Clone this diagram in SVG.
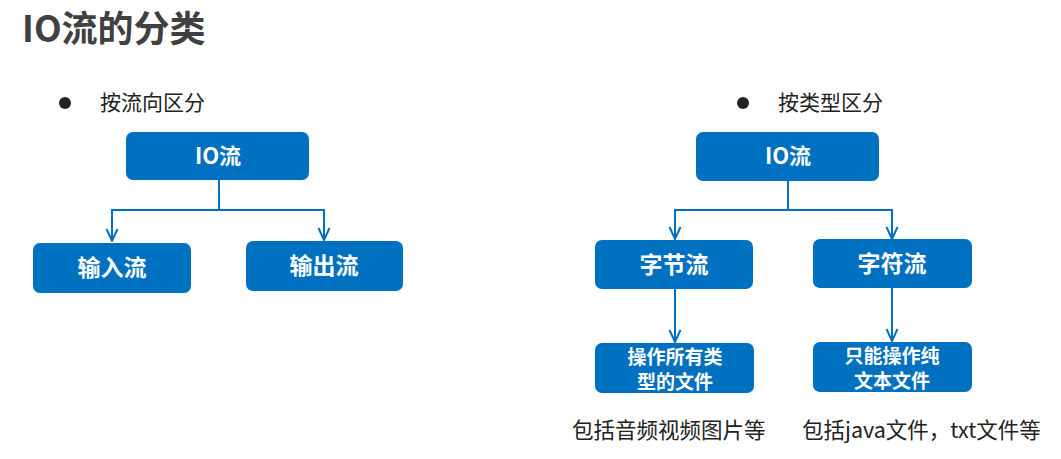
<svg xmlns="http://www.w3.org/2000/svg" width="1061" height="459" viewBox="0 0 1061 459">
<style>
.box{fill:#0070C0;}
.nt{fill:#fff;font-family:"Noto Sans CJK SC","Noto Sans",sans-serif;font-weight:bold;text-anchor:middle;}
.t{fill:#222;font-family:"Noto Sans CJK SC","Noto Sans",sans-serif;}
.c{fill:none;stroke:#0070C0;stroke-width:2;}
</style>
<defs>
<marker id="arr" viewBox="0 0 14 14" refX="13" refY="7" markerWidth="14" markerHeight="14" markerUnits="userSpaceOnUse" orient="auto">
<path d="M1,1.5 L13,7 L1,12.5" fill="none" stroke="#0070C0" stroke-width="2"/>
</marker>
</defs>
<text x="22" y="42" style="font-family:'Noto Sans CJK SC','Noto Sans',sans-serif;font-weight:bold;font-size:36px;fill:#404040;">IO流的分类</text>
<circle cx="65" cy="103" r="6" fill="#222"/>
<text class="t" x="100" y="110" font-size="21">按流向区分</text>
<circle cx="743" cy="103" r="6" fill="#222"/>
<text class="t" x="778" y="110" font-size="21">按类型区分</text>
<g id="connectors">
<path class="c" d="M219,180 V210 H112 V241" marker-end="url(#arr)"/>
<path class="c" d="M219,210 H324 V240" marker-end="url(#arr)"/>
<path class="c" d="M788,181 V210 H675 V239" marker-end="url(#arr)"/>
<path class="c" d="M788,210 H892 V239" marker-end="url(#arr)"/>
<path class="c" d="M675,289 V342" marker-end="url(#arr)"/>
<path class="c" d="M892,288 V341" marker-end="url(#arr)"/>
</g>
<g id="io-left"><rect class="box" x="126" y="132" width="183" height="48" rx="7"/><text class="nt" x="218" y="164" font-size="22">IO流</text></g>
<g id="input"><rect class="box" x="33" y="243" width="158" height="50" rx="7"/><text class="nt" x="112" y="276" font-size="23">输入流</text></g>
<g id="output"><rect class="box" x="246" y="241" width="157" height="50" rx="7"/><text class="nt" x="324" y="274" font-size="23">输出流</text></g>
<g id="io-right"><rect class="box" x="696" y="132" width="183" height="49" rx="7"/><text class="nt" x="788" y="164" font-size="22">IO流</text></g>
<g id="byte"><rect class="box" x="595" y="240" width="158" height="49" rx="7"/><text class="nt" x="674" y="273" font-size="23">字节流</text></g>
<g id="char"><rect class="box" x="813" y="239" width="159" height="49" rx="7"/><text class="nt" x="892" y="272" font-size="23">字符流</text></g>
<g id="byte-desc"><rect class="box" x="595" y="343" width="159" height="50" rx="7"/><text class="nt" x="675" y="364" font-size="19">操作所有类</text><text class="nt" x="675" y="389" font-size="19">型的文件</text></g>
<g id="char-desc"><rect class="box" x="813" y="342" width="159" height="50" rx="7"/><text class="nt" x="892" y="363" font-size="19">只能操作纯</text><text class="nt" x="892" y="388" font-size="19">文本文件</text></g>
<text class="t" x="572" y="438" font-size="21.5">包括音频视频图片等</text>
<text class="t" x="802" y="438" font-size="21.5">包括java文件，txt文件等</text>
</svg>
